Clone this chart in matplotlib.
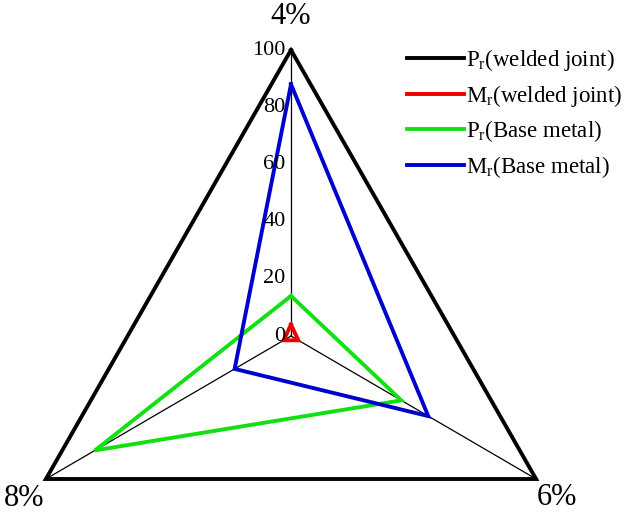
## Importing Libarys
import numpy as np
import matplotlib
matplotlib.use('Agg')
import matplotlib.pyplot as plt

## Data
axes_labels = ['4%', '6%', '8%']
Pr_weld = [100, 100, 100]
Mr_weld = [4, 3, 3]
Pr_base = [14, 45, 80]
Mr_base = [88, 56, 23]
r_ticks = [0, 20, 40, 60, 80, 100]

series = [Pr_weld, Mr_weld, Pr_base, Mr_base]
names = [r'P$_\mathrm{r}$(welded joint)', r'M$_\mathrm{r}$(welded joint)',
         r'P$_\mathrm{r}$(Base metal)', r'M$_\mathrm{r}$(Base metal)']
colors = ['black', '#ee0000', '#11e011', '#0000cc']

## Style
plt.rcParams['font.family'] = 'Liberation Serif'
plt.rcParams['mathtext.fontset'] = 'custom'
plt.rcParams['mathtext.rm'] = 'Liberation Serif'
plt.rcParams['mathtext.it'] = 'Liberation Serif:italic'

theta = np.deg2rad([0, 120, 240])
theta_c = np.append(theta, theta[0]) #closing the polygon

fig = plt.figure(figsize=(6.26, 5.15), dpi=100)
ax = fig.add_axes([8/626, 1 - 622/515, 566/626, 572/515], projection='polar')
ax.set_aspect('auto')
ax.set_theta_zero_location('N')
ax.set_theta_direction(-1)
ax.set_ylim(0, 100)
ax.grid(False)
ax.set_xticks([])
ax.set_yticks([])
ax.spines['polar'].set_visible(False)
ax.patch.set_alpha(0)

# spokes
for t in theta:
    ax.plot([t, t], [0, 100], color='black', lw=0.9, clip_on=False)

# series
for vals, name, c in zip(series, names, colors):
    ax.plot(theta_c, vals + [vals[0]], color=c, lw=2.8, label=name, clip_on=False,
            solid_joinstyle='miter')

# radial tick labels along the top spoke
for r in r_ticks:
    ax.annotate(str(r), (0, r), xytext=(-4, 0), textcoords='offset points',
                ha='right', va='center', fontsize=16)

# axis names
offsets = [(0, 24), (15, -13), (-16, -14)]
for t, lab, off in zip(theta, axes_labels, offsets):
    ax.annotate(lab, (t, 100), xytext=off, textcoords='offset points',
                ha='center', va='center', fontsize=22, annotation_clip=False)

fig.legend(loc='upper left', bbox_to_anchor=(398/626, 1 - 38/515), frameon=False,
           fontsize=16.5, handlelength=2.5, handletextpad=0.05, labelspacing=0.42,
           borderaxespad=0)

plt.savefig('out.png', dpi=100)
